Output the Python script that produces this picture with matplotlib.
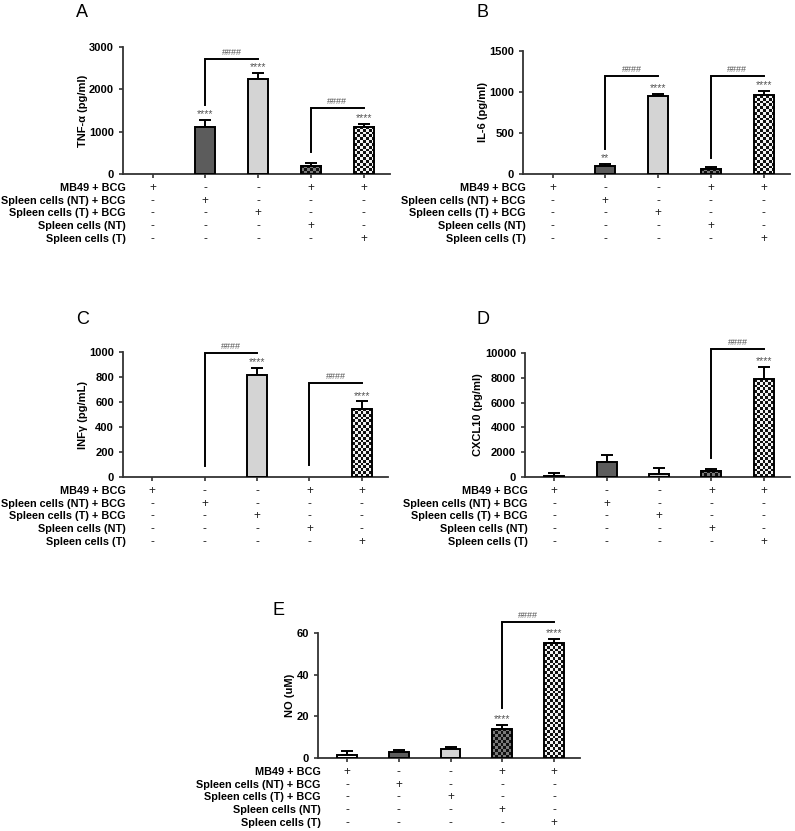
import numpy as np
import matplotlib.pyplot as plt
from matplotlib import transforms
from matplotlib.colors import ListedColormap

plt.rcParams['font.family'] = ['Liberation Sans', 'DejaVu Sans']

# Data
groups = ['MB49 + BCG', 'Spleen cells (NT) + BCG', 'Spleen cells (T) + BCG',
          'Spleen cells (NT)', 'Spleen cells (T)']
signs = [['+', '-', '-', '+', '+'],
         ['-', '+', '-', '-', '-'],
         ['-', '-', '+', '-', '-'],
         ['-', '-', '-', '+', '-'],
         ['-', '-', '-', '-', '+']]

tnf = [0, 1120, 2250, 200, 1120]
tnf_err = [0, 150, 130, 50, 70]
tnf_stars = ['', '****', '****', '', '****']
tnf_brackets = [(1, 2, 1630, 2716), (3, 4, 520, 1560)]

il6 = [0, 100, 950, 65, 960]
il6_err = [0, 20, 25, 20, 55]
il6_stars = ['', '**', '****', '', '****']
il6_brackets = [(1, 2, 300, 1195), (3, 4, 195, 1195)]

ifn = [0, 0, 820, 0, 545]
ifn_err = [0, 0, 50, 0, 60]
ifn_stars = ['', '', '****', '', '****']
ifn_brackets = [(1, 2, 90, 990), (3, 4, 95, 750)]

cxcl10 = [100, 1250, 250, 500, 7900]
cxcl10_err = [250, 550, 450, 150, 1000]
cxcl10_stars = ['', '', '', '', '****']
cxcl10_brackets = [(3, 4, 1530, 10300)]

no = [1.5, 3, 4.5, 14, 55]
no_err = [2, 1, 0.7, 2, 2]
no_stars = ['', '', '', '****', '****']
no_brackets = [(3, 4, 24, 65.3)]

W, H = 795, 831
fig = plt.figure(figsize=(W / 100, H / 100), dpi=100)

spine_c = '#333333'
fills = ['white', '#5c5c5c', '#d4d4d4', None, None]
checkers = {3: ['#111111', '#7a7a7a'], 4: ['#111111', '#f2f2f2']}


def panel(letter, lx, ly, left, right, top, bottom, vals, errs, stars,
          brackets, ymax, yticks, ylabel):
    ax = fig.add_axes([left / W, 1 - bottom / H, (right - left) / W,
                       (bottom - top) / H])
    h_px = bottom - top
    x = np.arange(5)
    w = 0.38
    for i in range(5):
        if vals[i] <= 0:
            continue
        if i in checkers:
            nrows = max(1, int(round(vals[i] / ymax * h_px / 2.8)))
            ncols = 7
            cb = (np.indices((nrows, ncols)).sum(axis=0) % 2)
            ax.imshow(cb, cmap=ListedColormap(checkers[i]),
                      extent=(x[i] - w / 2, x[i] + w / 2, 0, vals[i]),
                      aspect='auto', interpolation='nearest', zorder=2)
            fc = 'none'
        else:
            fc = fills[i]
        ax.bar(x[i], vals[i], w, color=fc, edgecolor='black',
               linewidth=1.4, zorder=3)
        ax.errorbar(x[i], vals[i], yerr=[[0], [errs[i]]], fmt='none',
                    ecolor='black', elinewidth=1.4, capsize=4.5,
                    capthick=1.4, zorder=2)
        if stars[i]:
            ax.annotate(stars[i], (x[i], vals[i] + errs[i]),
                        xytext=(0, 0.5), textcoords='offset points',
                        ha='center', va='bottom', fontsize=7.5,
                        color='#555555', annotation_clip=False)
    for a, b, ylo, yhi in brackets:
        ax.plot([a, a, b], [ylo, yhi, yhi], color='black', lw=1.4,
                clip_on=False, solid_joinstyle='miter')
        ax.annotate('####', ((a + b) / 2, yhi), xytext=(0, 1.5),
                    textcoords='offset points', ha='center', va='bottom',
                    fontsize=6.5, color='#555555', annotation_clip=False)

    ax.set_xlim(-0.56, 4.5)
    ax.set_ylim(0, ymax)
    ax.set_yticks(yticks)
    ax.set_xticks(x)
    ax.set_xticklabels([])
    for s in ['top', 'right']:
        ax.spines[s].set_visible(False)
    for s in ['left', 'bottom']:
        ax.spines[s].set_color(spine_c)
        ax.spines[s].set_linewidth(1.3)
    ax.tick_params(axis='both', colors=spine_c, width=1.2, length=3,
                   labelsize=8)
    for t in ax.get_yticklabels():
        t.set_fontweight('bold')
        t.set_color('black')
    ax.set_ylabel(ylabel, fontsize=8, fontweight='bold', labelpad=1)

    trans = transforms.blended_transform_factory(ax.transData, ax.transAxes)
    for r, lab in enumerate(groups):
        yy = -(14 + 12.7 * r) / h_px
        ax.text(0.01, yy, lab, transform=ax.transAxes, ha='right',
                va='center', fontsize=7.8, fontweight='bold')
        for i in range(5):
            ax.text(x[i], yy, signs[r][i], transform=trans, ha='center',
                    va='center', fontsize=8.5, color='#222222')

    fig.text(lx / W, 1 - ly / H, letter, fontsize=13, ha='left', va='top')
    return ax


panel('A', 76, 4, 123, 390, 47, 174, tnf, tnf_err, tnf_stars,
      tnf_brackets, 3000, [0, 1000, 2000, 3000], 'TNF-α (pg/ml)')
panel('B', 476, 4, 523, 790, 51, 174, il6, il6_err, il6_stars,
      il6_brackets, 1500, [0, 500, 1000, 1500], 'IL-6 (pg/ml)')
panel('C', 76, 311, 123, 388, 352, 477, ifn, ifn_err, ifn_stars,
      ifn_brackets, 1000, [0, 200, 400, 600, 800, 1000], 'INFγ (pg/mL)')
panel('D', 476, 311, 525, 790, 353, 477, cxcl10, cxcl10_err, cxcl10_stars,
      cxcl10_brackets, 10000, [0, 2000, 4000, 6000, 8000, 10000],
      'CXCL10 (pg/ml)')
panel('E', 273, 602, 318, 580, 633, 758, no, no_err, no_stars,
      no_brackets, 60, [0, 20, 40, 60], 'NO (uM)')

plt.savefig('out.png', dpi=100)
